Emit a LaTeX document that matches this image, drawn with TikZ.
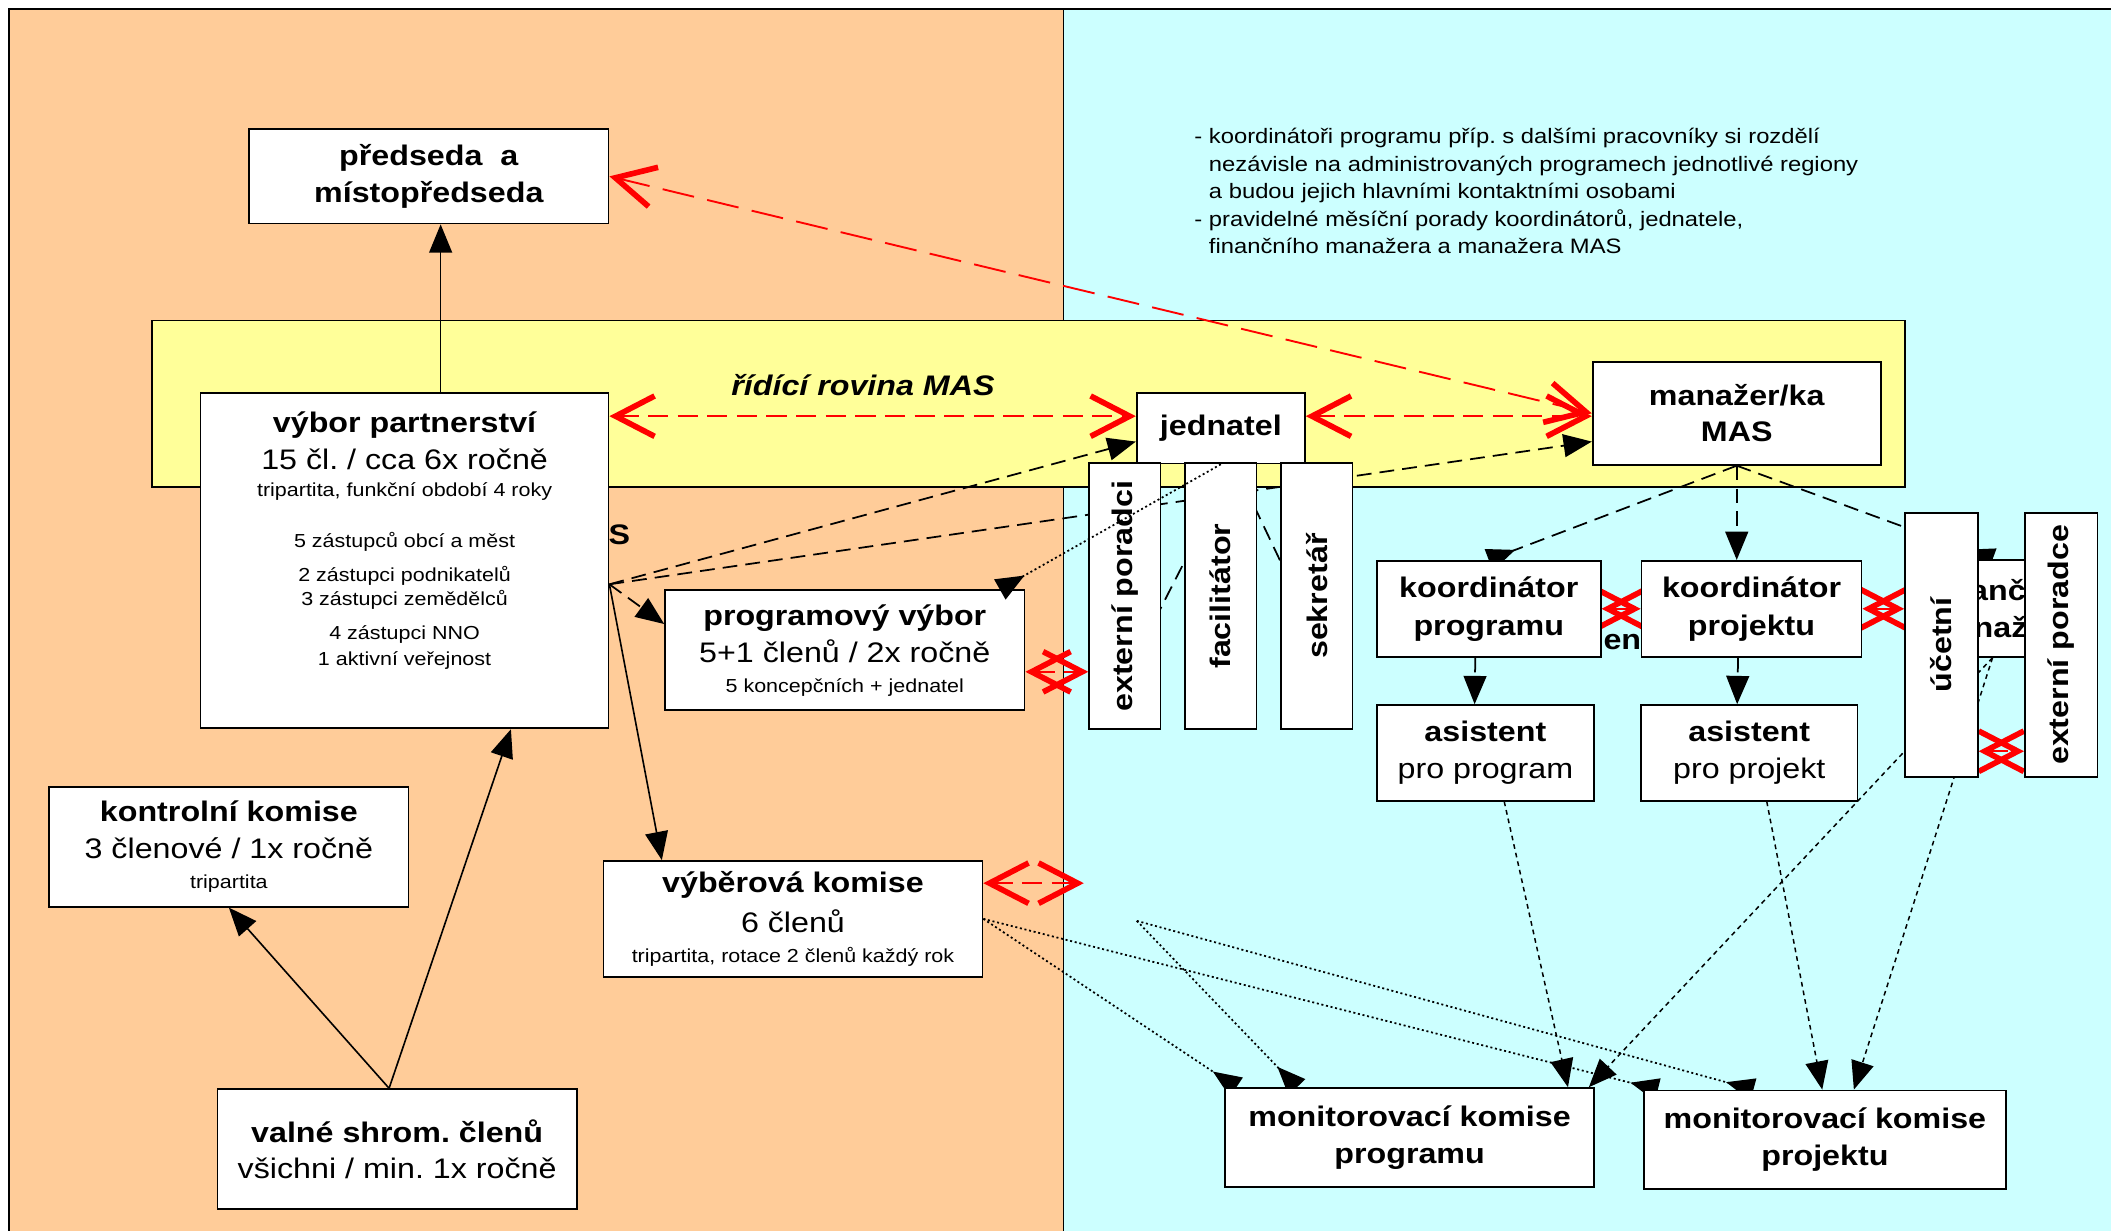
\documentclass[tikz,border=0pt]{standalone}
\usepackage{fontspec}
\setmainfont{Liberation Sans}[FakeStretch=1.14]
\usepackage{graphicx}
\usetikzlibrary{arrows.meta}
\definecolor{mascream}{RGB}{255,204,153}
\definecolor{mascyan}{RGB}{204,255,255}
\definecolor{masyellow}{RGB}{255,255,153}
\pgfdeclarelayer{bg}
\pgfdeclarelayer{lines}
\pgfsetlayers{bg,lines,main}
\newcommand{\boxtitle}{\bfseries}
\newcommand{\boxsmall}{\fontsize{14}{17}\selectfont}
\frenchspacing

\begin{document}
\begin{tikzpicture}[x=1pt, y=-1pt,
    box/.style={draw, fill=white, line width=1.3pt, inner sep=2pt, align=center,
                font=\fontsize{21}{27}\selectfont},
    tip/.style={-{Triangle[length=21pt,width=17pt]}},
    rtip/.style={-{Triangle[length=21pt,width=17pt,reversed]}},
    sline/.style={line width=1.2pt},
    dline/.style={line width=1.3pt, dash pattern=on 11pt off 6pt},
    fline/.style={line width=1.1pt, dash pattern=on 3.5pt off 3pt},
    pline/.style={line width=1.3pt, dash pattern=on 1.5pt off 2pt},
    redarr/.style={red, line width=1.4pt, dash pattern=on 15pt off 7pt,
                   >={Straight Barb[length=29pt,width=30pt,line width=4.2pt]}, <->}]
  \useasboundingbox (0,0) rectangle (1568,914.3);

  % pozadí: členská a výkonná část, řídící rovina
  \begin{pgfonlayer}{bg}
    \fill[mascream] (6.5,6.5) rectangle (790,914.3);
    \fill[mascyan] (790,6.5) rectangle (1568,914.3);
    \draw[line width=1.3pt] (6.5,914.3) -- (6.5,6.5) -- (1568,6.5);
    \draw[line width=1.3pt] (790,6.5) -- (790,914.3);
    \draw[line width=1.3pt, fill=masyellow] (113,238) rectangle (1415,362);
  \end{pgfonlayer}

  \node[font=\fontsize{21}{27}\selectfont\bfseries\itshape] (ridici) at (641,286) {řídící rovina MAS};
  \node[font=\fontsize{21}{27}\selectfont\bfseries] (zbytek) at (460,397.5) {S};
  \node[font=\fontsize{21}{27}\selectfont\bfseries] (zbytek2) at (1205,477) {en};

  % poznámka
  \node[anchor=north west, align=left, inner sep=0pt, font=\fontsize{15.5}{20.5}\selectfont] (pozn) at (887,95)
    {- koordinátoři programu příp. s dalšími pracovníky si rozdělí\\
     \hphantom{- }nezávisle na administrovaných programech jednotlivé regiony\\
     \hphantom{- }a budou jejich hlavními kontaktními osobami\\
     - pravidelné měsíční porady koordinátorů, jednatele,\\
     \hphantom{- }finančního manažera a manažera MAS};

  % orgány MAS
  \node[box, minimum width=267pt, minimum height=70pt] (pred) at (318.5,131)
    {\boxtitle předseda~~a\\ \boxtitle místopředseda};
  \node[box, minimum width=303pt, minimum height=249pt] (vp) at (300.5,416.5)
    {\boxtitle výbor partnerství\\ 15 čl. / cca 6x ročně\\[-6.5pt]
     \boxsmall tripartita, funkční období 4 roky\\[11pt]
     \boxsmall 5 zástupců obcí a měst\\[-2pt]
     \boxsmall 2 zástupci podnikatelů\\[-9pt]
     \boxsmall 3 zástupci zemědělců\\[-2pt]
     \boxsmall 4 zástupci NNO\\[-8pt]
     \boxsmall 1 aktivní veřejnost\\[6pt]\mbox{}};
  \node[box, minimum width=267pt, minimum height=89pt] (pv) at (627.5,483)
    {\boxtitle programový výbor\\[0.5pt] 5+1 členů / 2x ročně\\[-4.5pt]
     \boxsmall 5 koncepčních + jednatel};
  \node[box, minimum width=267pt, minimum height=89pt] (kk) at (170,629)
    {\boxtitle kontrolní komise\\[0.5pt] 3 členové / 1x ročně\\[-4.5pt]
     \boxsmall tripartita};
  \node[box, minimum width=281.5pt, minimum height=86pt] (vk) at (589,682.5)
    {\boxtitle výběrová komise\\[2.5pt] 6 členů\\[-4.5pt]
     \boxsmall tripartita, rotace 2 členů každý rok};
  \node[box, minimum width=267pt, minimum height=89pt] (vs) at (295,853.5)
    {\boxtitle valné shrom. členů\\ všichni / min. 1x ročně};

  % kancelář MAS
  \node[box, minimum width=125pt, minimum height=52.4pt] (jed) at (906.8,318) {\boxtitle jednatel};
  \node[box, minimum width=214pt, minimum height=76.5pt] (man) at (1290,307)
    {\boxtitle manažer/ka\\ \boxtitle MAS};
  \node[box, minimum width=110pt, minimum height=71.7pt] (fm) at (1480,452)
    {\boxtitle finanční\\ \boxtitle manažer};
  \node[box, minimum width=53pt, minimum height=197.5pt] (ep) at (835.5,442.8)
    {\rotatebox{90}{\bfseries externí poradci}};
  \node[box, minimum width=53pt, minimum height=197.5pt] (fac) at (906.7,442.8)
    {\rotatebox{90}{\bfseries facilitátor}};
  \node[box, minimum width=53pt, minimum height=197.5pt] (sek) at (978.1,442.8)
    {\rotatebox{90}{\bfseries sekretář}};
  \node[box, minimum width=166.4pt, minimum height=71.3pt] (kpg) at (1105.8,452.2)
    {\boxtitle koordinátor\\[1pt] \boxtitle programu};
  \node[box, minimum width=163.4pt, minimum height=71.3pt] (kpj) at (1301,452.2)
    {\boxtitle koordinátor\\[1pt] \boxtitle projektu};
  \node[box, minimum width=161.4pt, minimum height=71pt] (apg) at (1103.3,559.2)
    {\boxtitle asistent\\ pro program};
  \node[box, minimum width=160.6pt, minimum height=71pt] (apj) at (1299.3,559.2)
    {\boxtitle asistent\\ pro projekt};
  \node[box, minimum width=54pt, minimum height=196pt] (uc) at (1442,479)
    {\rotatebox{90}{\bfseries účetní}};
  \node[box, minimum width=54pt, minimum height=196pt] (epc) at (1531,479)
    {\rotatebox{90}{\bfseries externí poradce}};
  \node[box, minimum width=274pt, minimum height=73.6pt] (mkpg) at (1047,845)
    {\boxtitle monitorovací komise\\ \boxtitle programu};
  \node[box, minimum width=269pt, minimum height=73pt] (mkpj) at (1355.5,846.5)
    {\boxtitle monitorovací komise\\ \boxtitle projektu};

  \coordinate (vpo) at ([yshift=-17.5pt]vp.east);
  \coordinate (jedo) at ([xshift=10pt]jed.south);
  \coordinate (pvr) at ([yshift=-16pt]pv.east);
  \coordinate (ucr) at ([yshift=-79pt]uc.east);
  \coordinate (vkr) at ([yshift=26.5pt]vk.east);
  \coordinate (vkr2) at (805,656);
  \coordinate (vkf) at (844.4,684);

  \begin{pgfonlayer}{lines}
    % červené vazby
    \draw[redarr, dash pattern=on 24pt off 10pt] (pred.east) -- (man.west);
    \draw[redarr] (jed.172 -| vp.east) -- (jed.172);
    \draw[redarr] (jed.8) -- (jed.8 -| man.west);
    \draw[redarr] (pvr) -- (pvr -| ep.west);
    \draw[redarr] (kpg.east) -- (kpj.west);
    \draw[redarr] (kpj.east) -- (kpj.east -| uc.west);
    \draw[redarr] (ucr) -- (ucr -| epc.west);
    \draw[redarr] (vkr) -- (vkr2);

    % výbor partnerství
    \draw[sline, tip] ([xshift=26.8pt]vp.north) -- ([xshift=8.8pt]pred.south);
    \draw[sline, tip] ([xshift=-6pt]vs.north) -- ([xshift=79pt]vp.south);
    \draw[sline, tip] ([xshift=-6pt]vs.north) -- (kk.south);
    \draw[sline, tip] (vpo) -- ([xshift=44pt]vk.north west);
    \draw[dline, tip] (vpo) -- ([yshift=19.5pt]pv.west);
    \draw[dline, tip] (vpo) -- ([yshift=-10pt]jed.west);
    \draw[dline, tip] (vpo) -- ([yshift=-21pt]man.west);

    % jednatel a manažer
    \draw[dline] (jedo) -- ([yshift=-61pt]ep.center);
    \draw[dline] (jedo) -- ([yshift=-31pt]sek.center);
    \draw[dline, rtip] (man.south) -- (kpg.north);
    \draw[dline, tip] (man.south) -- (man.south |- kpj.north);
    \draw[dline, rtip] (man.south) -- (fm.north);
    \draw[dline, tip] ([xshift=-10pt]kpg.south) -- ([xshift=-8pt]apg.north);
    \draw[dline, tip] ([xshift=-10pt]kpj.south) -- ([xshift=-9pt]apj.north);

    % monitorovací komise
    \draw[fline, tip] ([xshift=14pt]apg.south) -- ([xshift=-20pt]mkpg.north east);
    \draw[fline, tip] (fm.south) -- ([xshift=-4.5pt]mkpg.north east);
    \draw[fline, tip] (fm.south) -- ([xshift=21.5pt]mkpj.north);
    \draw[fline, tip] ([xshift=13pt]apj.south) -- ([xshift=-2pt]mkpj.north);
    \draw[pline, rtip] (vk.east) -- ([xshift=9pt]mkpg.north west);
    \draw[pline, rtip] (vk.east) -- ([xshift=11pt]mkpj.north west);
    \draw[pline, rtip] (vkf) -- ([xshift=54pt]mkpg.north west);
    \draw[pline, rtip] (vkf) -- ([xshift=82pt]mkpj.north west);
  \end{pgfonlayer}

  \draw[pline, rtip] (jed.south) -- ([xshift=-19pt]pv.north east);
\end{tikzpicture}
\end{document}
